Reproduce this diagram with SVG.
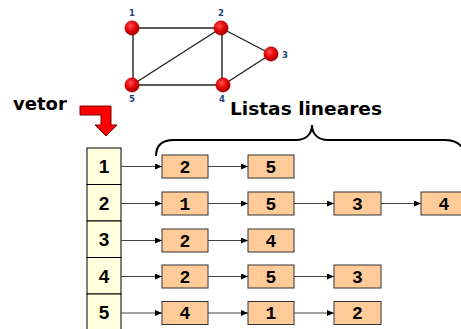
<svg xmlns="http://www.w3.org/2000/svg" width="461" height="329" viewBox="0 0 461 329">
<defs>
<radialGradient id="rg" cx="0.4" cy="0.35" r="0.65">
<stop offset="0" stop-color="#ff5050"/>
<stop offset="0.6" stop-color="#e00000"/>
<stop offset="1" stop-color="#990000"/>
</radialGradient>
<marker id="ah" markerWidth="7" markerHeight="6" refX="7" refY="3" orient="auto" markerUnits="userSpaceOnUse">
<path d="M0,0 L7,3 L0,6 Z" fill="#000"/>
</marker>
</defs>
<style>
.edge{stroke:#222;stroke-width:1.4;fill:none}
.gn{fill:url(#rg);stroke:#b00000;stroke-width:0.5}
.gl{font-family:"DejaVu Sans",sans-serif;font-weight:bold;font-size:8.5px;fill:#1f3f7a;text-anchor:middle}
.vb{fill:#ffffdd;stroke:#000;stroke-width:1}
.vt{font-family:"Liberation Sans",Arial,sans-serif;font-weight:bold;font-size:19px;fill:#000;text-anchor:middle}
.ln{fill:#ffcc99;stroke:#333;stroke-width:1}
.lt{font-family:"Liberation Mono","Courier New",monospace;font-weight:bold;font-size:18px;fill:#000;text-anchor:middle}
.ar{stroke:#444;stroke-width:1;fill:none;marker-end:url(#ah)}
.big{font-family:"DejaVu Sans",sans-serif;font-weight:bold;font-size:18px;fill:#000}
</style>
<rect width="461" height="329" fill="#fff"/>
<g id="graph-edges">
<line class="edge" x1="132" y1="28" x2="221" y2="28"/>
<line class="edge" x1="133" y1="28" x2="133" y2="85"/>
<line class="edge" x1="132" y1="85" x2="223" y2="85"/>
<line class="edge" x1="132" y1="85" x2="221" y2="28"/>
<line class="edge" x1="222" y1="28" x2="222" y2="85"/>
<line class="edge" x1="221" y1="28" x2="271" y2="54"/>
<line class="edge" x1="271" y1="54" x2="223" y2="85"/>
</g>
<g id="gnode1"><circle class="gn" cx="132" cy="28" r="7.2"/><text class="gl" x="132" y="16">1</text></g>
<g id="gnode2"><circle class="gn" cx="221" cy="28" r="7.2"/><text class="gl" x="221" y="16">2</text></g>
<g id="gnode3"><circle class="gn" cx="271" cy="54" r="7.2"/><text class="gl" x="285" y="58">3</text></g>
<g id="gnode4"><circle class="gn" cx="223" cy="85" r="7.2"/><text class="gl" x="222" y="102">4</text></g>
<g id="gnode5"><circle class="gn" cx="132" cy="85" r="7.2"/><text class="gl" x="132" y="102">5</text></g>
<g id="label-vetor"><text class="big" x="13" y="110">vetor</text></g>
<g id="red-arrow"><path d="M80,106 L111,106 L111,125 L117,125 L106,136 L95,125 L101,125 L101,115 L80,115 Z" fill="#ff0000" stroke="#7a0000" stroke-width="1"/></g>
<g id="label-listas"><text class="big" x="230" y="115" textLength="152" lengthAdjust="spacingAndGlyphs">Listas lineares</text></g>
<g id="brace"><path d="M156,156 C156,146 161,140 174,140 L296,140 C306,140 312,134 312,125 C312,134 318,140 328,140 L445,140 C453,140 459,143 463,148" fill="none" stroke="#000" stroke-width="2"/></g>
<g id="vector">
<g id="v1"><rect class="vb" x="87" y="148" width="34" height="36.5"/><text class="vt" x="104" y="173">1</text></g>
<g id="v2"><rect class="vb" x="87" y="184.5" width="34" height="36.5"/><text class="vt" x="104" y="209.5">2</text></g>
<g id="v3"><rect class="vb" x="87" y="221" width="34" height="36.5"/><text class="vt" x="104" y="246">3</text></g>
<g id="v4"><rect class="vb" x="87" y="257.5" width="34" height="36.5"/><text class="vt" x="104" y="282.5">4</text></g>
<g id="v5"><rect class="vb" x="87" y="294" width="34" height="36.5"/><text class="vt" x="104" y="319">5</text></g>
</g>
<g id="connectors">
<line class="ar" x1="121" y1="166.5" x2="162" y2="166.5"/>
<line class="ar" x1="208" y1="166.5" x2="248" y2="166.5"/>
<line class="ar" x1="121" y1="203.5" x2="162" y2="203.5"/>
<line class="ar" x1="208" y1="203.5" x2="248" y2="203.5"/>
<line class="ar" x1="294" y1="203.5" x2="334" y2="203.5"/>
<line class="ar" x1="381" y1="203.5" x2="421" y2="203.5"/>
<line class="ar" x1="121" y1="240.5" x2="162" y2="240.5"/>
<line class="ar" x1="208" y1="240.5" x2="248" y2="240.5"/>
<line class="ar" x1="121" y1="276.5" x2="162" y2="276.5"/>
<line class="ar" x1="208" y1="276.5" x2="248" y2="276.5"/>
<line class="ar" x1="294" y1="276.5" x2="334" y2="276.5"/>
<line class="ar" x1="121" y1="313" x2="162" y2="313"/>
<line class="ar" x1="208" y1="313" x2="248" y2="313"/>
<line class="ar" x1="294" y1="313" x2="334" y2="313"/>
</g>
<g id="list1">
<g id="n1a"><rect class="ln" x="162" y="155" width="46" height="23"/><text class="lt" x="185" y="172.5">2</text></g>
<g id="n1b"><rect class="ln" x="248" y="155" width="46" height="23"/><text class="lt" x="271" y="172.5">5</text></g>
</g>
<g id="list2">
<g id="n2a"><rect class="ln" x="162" y="192" width="46" height="23"/><text class="lt" x="185" y="209.5">1</text></g>
<g id="n2b"><rect class="ln" x="248" y="192" width="46" height="23"/><text class="lt" x="271" y="209.5">5</text></g>
<g id="n2c"><rect class="ln" x="334" y="192" width="47" height="23"/><text class="lt" x="357.5" y="209.5">3</text></g>
<g id="n2d"><rect class="ln" x="421" y="192" width="46" height="23"/><text class="lt" x="444" y="209.5">4</text></g>
</g>
<g id="list3">
<g id="n3a"><rect class="ln" x="162" y="229" width="46" height="23"/><text class="lt" x="185" y="246.5">2</text></g>
<g id="n3b"><rect class="ln" x="248" y="229" width="46" height="23"/><text class="lt" x="271" y="246.5">4</text></g>
</g>
<g id="list4">
<g id="n4a"><rect class="ln" x="162" y="265" width="46" height="23"/><text class="lt" x="185" y="282.5">2</text></g>
<g id="n4b"><rect class="ln" x="248" y="265" width="46" height="23"/><text class="lt" x="271" y="282.5">5</text></g>
<g id="n4c"><rect class="ln" x="334" y="265" width="47" height="23"/><text class="lt" x="357.5" y="282.5">3</text></g>
</g>
<g id="list5">
<g id="n5a"><rect class="ln" x="162" y="301.5" width="46" height="23"/><text class="lt" x="185" y="319">4</text></g>
<g id="n5b"><rect class="ln" x="248" y="301.5" width="46" height="23"/><text class="lt" x="271" y="319">1</text></g>
<g id="n5c"><rect class="ln" x="334" y="301.5" width="47" height="23"/><text class="lt" x="357.5" y="319">2</text></g>
</g>
</svg>
